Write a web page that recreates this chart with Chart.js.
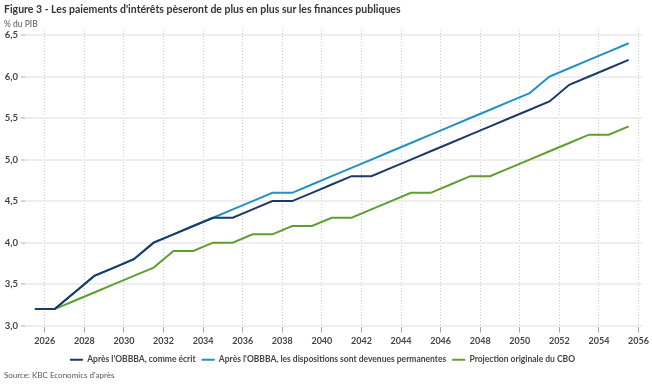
<!DOCTYPE html>
<html>
<head>
<meta charset="utf-8">
<script src="https://cdn.jsdelivr.net/npm/chart.js@4"></script>
<style>
  body { margin: 0; background: #fff; font-family: Lato, sans-serif; }
  #wrap { position: relative; width: 652px; height: 388px; }
  #title { position: absolute; left: 4px; top: 3px; font-size: 10.5px; font-weight: bold; color: #333; white-space: nowrap; }
  #unit { position: absolute; left: 4px; top: 19px; font-size: 8.5px; color: #555; }
  #source { position: absolute; left: 4px; top: 370px; font-size: 8px; color: #555; }
  canvas { position: absolute; left: 0; top: 0; }
</style>
</head>
<body>
<div id="wrap">
  <canvas id="chart" width="652" height="388"></canvas>
  <div id="title">Figure 3 - Les paiements d'intérêts pèseront de plus en plus sur les finances publiques</div>
  <div id="unit">% du PIB</div>
  <div id="source">Source: KBC Economics d'après</div>
</div>
<script>
// years 2025..2055, drawn at mid-year
const years = [2025, 2026, 2027, 2028, 2029, 2030, 2031, 2032, 2033, 2034, 2035,
  2036, 2037, 2038, 2039, 2040, 2041, 2042, 2043, 2044, 2045,
  2046, 2047, 2048, 2049, 2050, 2051, 2052, 2053, 2054, 2055];

const asWritten = [3.2, 3.2, 3.4, 3.6, 3.7, 3.8, 4.0, 4.1, 4.2, 4.3, 4.3,
  4.4, 4.5, 4.5, 4.6, 4.7, 4.8, 4.8, 4.9, 5.0, 5.1,
  5.2, 5.3, 5.4, 5.5, 5.6, 5.7, 5.9, 6.0, 6.1, 6.2];

const permanent = [3.2, 3.2, 3.4, 3.6, 3.7, 3.8, 4.0, 4.1, 4.2, 4.3, 4.4,
  4.5, 4.6, 4.6, 4.7, 4.8, 4.9, 5.0, 5.1, 5.2, 5.3,
  5.4, 5.5, 5.6, 5.7, 5.8, 6.0, 6.1, 6.2, 6.3, 6.4];

const cbo = [3.2, 3.2, 3.3, 3.4, 3.5, 3.6, 3.7, 3.9, 3.9, 4.0, 4.0,
  4.1, 4.1, 4.2, 4.2, 4.3, 4.3, 4.4, 4.5, 4.6, 4.6,
  4.7, 4.8, 4.8, 4.9, 5.0, 5.1, 5.2, 5.3, 5.3, 5.4];

const seriesNames = [
  "Après l'OBBBA, comme écrit",
  "Après l'OBBBA, les dispositions sont devenues permanentes",
  "Projection originale du CBO"
];

const xTicks = [2026, 2028, 2030, 2032, 2034, 2036, 2038, 2040, 2042, 2044, 2046, 2048, 2050, 2052, 2054, 2056];
const yTicks = [3.0, 3.5, 4.0, 4.5, 5.0, 5.5, 6.0, 6.5];

function toPoints(vals) {
  return vals.map((v, i) => ({ x: years[i] + 0.5, y: v }));
}

function makeSet(label, vals, color) {
  return {
    label: label,
    data: toPoints(vals),
    borderColor: color,
    backgroundColor: color,
    borderWidth: 2,
    pointRadius: 0,
    tension: 0
  };
}

var ctx = document.getElementById('chart');

var chart = new Chart(ctx, {
  type: 'line',
  data: {
    datasets: [
      makeSet(seriesNames[0], asWritten, '#1b3a66'),
      makeSet(seriesNames[1], permanent, '#2290c6'),
      makeSet(seriesNames[2], cbo, '#5e9f2e')
    ]
  },
  options: {
    responsive: false,
    animation: false,
    layout: { padding: { top: 30, right: 7, bottom: 14, left: 0 } },
    plugins: {
      legend: {
        position: 'bottom',
        labels: {
          usePointStyle: true,
          pointStyle: 'line',
          pointStyleWidth: 13,
          padding: 6,
          color: '#444',
          font: { family: 'Lato', size: 8.5, weight: 'bold' }
        }
      },
      tooltip: { enabled: false }
    },
    scales: {
      x: {
        type: 'linear',
        min: 2025,
        max: 2056.17,
        afterBuildTicks: function(axis) {
          axis.ticks = xTicks.map(v => ({ value: v }));
        },
        ticks: {
          padding: 3,
          color: '#444',
          font: { family: 'Lato', size: 9, weight: 'bold' },
          callback: v => String(v)
        },
        grid: { color: '#cccccc', lineWidth: 1, tickLength: 7, tickColor: '#aaa' },
        border: { display: false, dash: [1, 2] }
      },
      y: {
        min: 3.0,
        max: 6.56,
        afterBuildTicks: function(axis) {
          axis.ticks = yTicks.map(v => ({ value: v }));
        },
        afterFit: function(axis) {
          axis.width = 25;
        },
        ticks: {
          padding: 3,
          color: '#444',
          font: { family: 'Lato', size: 9.5, weight: 'bold' },
          callback: v => v.toFixed(1).replace('.', ',')
        },
        grid: { color: '#eeeeee', lineWidth: 2, tickLength: 4, tickColor: '#aaa', tickWidth: 1 },
        border: { display: false }
      }
    }
  }
});
</script>
</body>
</html>
